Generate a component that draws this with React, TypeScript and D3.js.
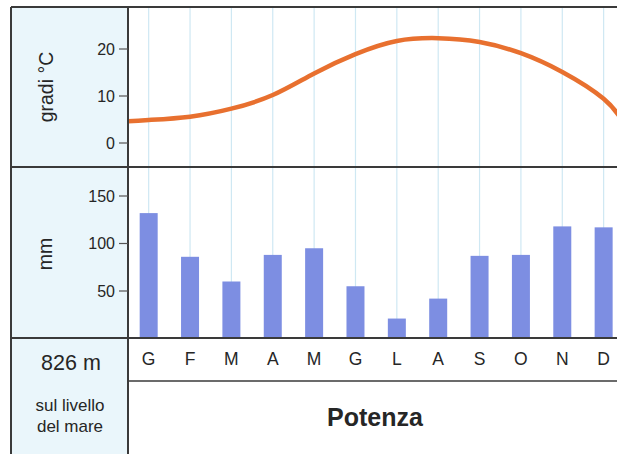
import React from "react";
import * as d3 from "d3";

const months = ["G", "F", "M", "A", "M", "G", "L", "A", "S", "O", "N", "D"];
const temperature = [4.9, 5.6, 7.3, 10.2, 14.8, 18.9, 21.7, 22.3, 21.5, 19.1, 15.1, 9.4];
const tempEdges = [4.6, 4.2]; // curve values where it meets the panel borders
const precipitation = [132, 86, 60, 88, 95, 55, 21, 42, 87, 88, 118, 117];
const tempTicks = [0, 10, 20];
const precipTicks = [50, 100, 150];
const altitude = "826 m";
const altitudeNote = ["sul livello", "del mare"];
const city = "Potenza";

const W = 617;
const H = 454;
const FONT = "'Liberation Sans', Arial, Helvetica, sans-serif";

export default function App() {
  const leftX = 11;
  const divX = 128;
  const topY = 7;
  const midY = 167;
  const baseY = 338;
  const labelRowY = 381;
  const step = 41.36;
  const plotRight = divX + 12 * step;

  const x = d3.scaleBand<number>().domain(d3.range(12)).range([divX, plotRight]);
  const cx = (i: number) => (x(i) as number) + x.bandwidth() / 2;

  const yT = d3.scaleLinear().domain([0, 20]).range([143, 49]);
  const yP = d3.scaleLinear().domain([0, 150]).range([338.5, 196]);

  const pts: [number, number][] = [
    [divX, yT(tempEdges[0])],
    ...temperature.map((t, i) => [cx(i), yT(t)] as [number, number]),
    [plotRight, yT(tempEdges[1])],
  ];
  const linePath = d3.line<[number, number]>().x((d) => d[0]).y((d) => d[1]).curve(d3.curveNatural)(pts) || "";

  const border = "#3a3a3a";
  const textCol = "#262626";
  const bw = 18;

  return (
    <svg width={W} height={H} style={{ position: "absolute", left: 0, top: 0, background: "#ffffff" }} fontFamily={FONT}>
      <defs>
        <clipPath id="tclip">
          <rect x={divX} y={topY} width={W - divX} height={midY - topY} />
        </clipPath>
      </defs>
      <rect x={leftX} y={topY} width={divX - leftX} height={H - topY} fill="#eaf6fb" />

      {months.map((_, i) => (
        <line key={"g" + i} x1={cx(i)} x2={cx(i)} y1={topY} y2={baseY} stroke="#cfe8f3" strokeWidth={1.2} />
      ))}

      {precipitation.map((v, i) => (
        <rect key={"b" + i} x={cx(i) - bw / 2} y={yP(v)} width={bw} height={yP(0) - yP(v)} fill="#7d8ee2" />
      ))}

      <path d={linePath} fill="none" stroke="#e8702f" strokeWidth={4.5} strokeLinecap="round" clipPath="url(#tclip)" />

      <line x1={leftX} x2={W} y1={topY} y2={topY} stroke={border} strokeWidth={2} />
      <line x1={leftX} x2={W} y1={midY} y2={midY} stroke={border} strokeWidth={2} />
      <line x1={leftX} x2={W} y1={baseY} y2={baseY} stroke={border} strokeWidth={2} />
      <line x1={divX} x2={W} y1={labelRowY} y2={labelRowY} stroke={border} strokeWidth={1.5} />
      <line x1={leftX} x2={leftX} y1={topY} y2={H} stroke={border} strokeWidth={2} />
      <line x1={divX} x2={divX} y1={topY} y2={H} stroke={border} strokeWidth={2} />

      {tempTicks.map((t) => (
        <g key={"tt" + t}>
          <line x1={119} x2={divX} y1={yT(t)} y2={yT(t)} stroke="#555" strokeWidth={1.2} />
          <text x={115} y={yT(t)} dy="0.36em" textAnchor="end" fontSize={16} fill={textCol}>{t}</text>
        </g>
      ))}
      <text transform={`translate(53,${(topY + midY) / 2}) rotate(-90)`} textAnchor="middle" fontSize={19.5} fill={textCol}>gradi °C</text>

      {precipTicks.map((t) => (
        <g key={"pt" + t}>
          <line x1={119} x2={divX} y1={yP(t)} y2={yP(t)} stroke="#555" strokeWidth={1.2} />
          <text x={115} y={yP(t)} dy="0.36em" textAnchor="end" fontSize={16} fill={textCol}>{t}</text>
        </g>
      ))}
      <text transform={`translate(52,254) rotate(-90)`} textAnchor="middle" fontSize={19.5} fill={textCol}>mm</text>

      {months.map((m, i) => (
        <text key={"m" + i} x={cx(i)} y={359} dy="0.36em" textAnchor="middle" fontSize={17.5} fill={textCol}>{m}</text>
      ))}

      <text x={71} y={362} dy="0.36em" textAnchor="middle" fontSize={21.5} fill={textCol}>{altitude}</text>
      <text x={70} y={405} dy="0.36em" textAnchor="middle" fontSize={17} fill={textCol}>{altitudeNote[0]}</text>
      <text x={70} y={426} dy="0.36em" textAnchor="middle" fontSize={17} fill={textCol}>{altitudeNote[1]}</text>

      <text x={375} y={417} dy="0.36em" textAnchor="middle" fontSize={25} fontWeight="bold" fill={textCol}>{city}</text>
    </svg>
  );
}
